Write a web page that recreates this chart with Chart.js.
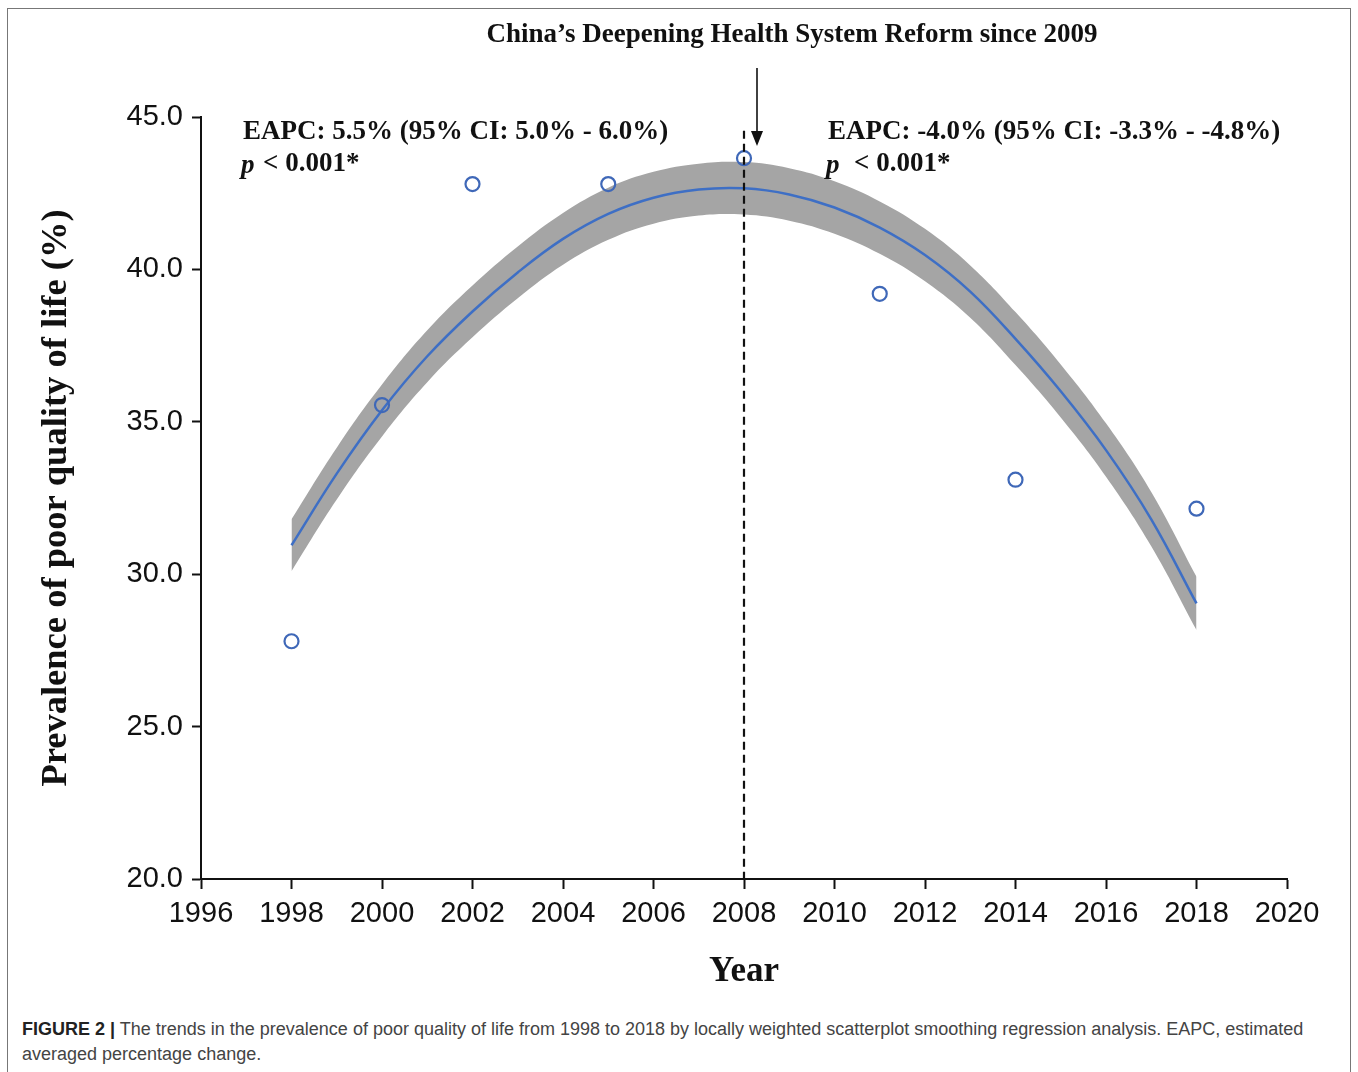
<!DOCTYPE html>
<html>
<head>
<meta charset="utf-8">
<title>Prevalence of poor quality of life</title>
<script src="https://cdn.jsdelivr.net/npm/chart.js@4.4.1/dist/chart.umd.min.js"></script>
<style>
  html, body { margin: 0; padding: 0; background: #fff; }
  body { width: 1358px; height: 1072px; position: relative; overflow: hidden; }
  .frame {
    position: absolute; left: 7px; top: 8px; width: 1344px; height: 1100px;
    border: 1.5px solid #777; box-sizing: border-box;
  }
  #chart { position: absolute; left: 0; top: 0; }
  .caption {
    position: absolute; left: 22px; top: 1017px; width: 1325px;
    font-family: "Liberation Sans", Arial, sans-serif; font-size: 18px;
    line-height: 25px; color: #444;
  }
  .caption b { color: #222; }
</style>
</head>
<body>
<div class="frame"></div>
<canvas id="chart" width="1358" height="1000"></canvas>
<div class="caption"><b>FIGURE 2 |</b> The trends in the prevalence of poor quality of life from 1998 to 2018 by locally weighted scatterplot smoothing regression analysis. EAPC, estimated<br>averaged percentage change.</div>

<script>
// Observed survey values (%)
const surveyYears = [1998, 2000, 2002, 2005, 2008, 2011, 2014, 2018];
const surveyValues = [27.8, 35.55, 42.8, 42.8, 43.65, 39.2, 33.1, 32.15];

// LOWESS fit and its confidence band
const fitYears = [1998, 1999, 2000, 2001, 2002, 2003, 2004, 2005, 2006, 2007, 2008,
                  2009, 2010, 2011, 2012, 2013, 2014, 2015, 2016, 2017, 2018];
const fitValues = [30.95, 33.3, 35.38, 37.15, 38.62, 39.9, 41.0, 41.82, 42.35, 42.62, 42.66,
                   42.46, 42.03, 41.37, 40.47, 39.27, 37.72, 36.0, 34.07, 31.8, 29.04];
const upperValues = [31.8, 34.15, 36.22, 38.0, 39.47, 40.75, 41.85, 42.68, 43.2, 43.47, 43.52,
                     43.32, 42.89, 42.23, 41.33, 40.13, 38.6, 36.88, 34.95, 32.7, 29.92];
const lowerValues = [30.1, 32.45, 34.52, 36.3, 37.77, 39.05, 40.15, 40.97, 41.5, 41.77, 41.8,
                     41.6, 41.17, 40.51, 39.61, 38.41, 36.86, 35.14, 33.2, 30.92, 28.17];

// Axes
const xMin = 1996, xMax = 2020, xStep = 2;
const yMin = 20, yMax = 45, yStep = 5;

// Reform marker
const reformYear = 2008;
const dashTopValue = 44.55;

const serif = '"Liberation Serif", "Times New Roman", serif';
const sans = '"Liberation Sans", Arial, sans-serif';

function toPoints(xs, ys) {
  return xs.map((v, i) => ({ x: v, y: ys[i] }));
}

// Annotations: title, EAPC texts, arrow and dashed reform line
const annotationPlugin = {
  id: 'annotations',
  afterDatasetsDraw(chart) {
    const { ctx, chartArea, scales: { x, y } } = chart;
    const xr = x.getPixelForValue(reformYear);
    ctx.save();
    ctx.strokeStyle = '#111';
    ctx.lineWidth = 2.2;
    ctx.setLineDash([8, 5]);
    ctx.beginPath();
    ctx.moveTo(xr, y.getPixelForValue(dashTopValue));
    ctx.lineTo(xr, chartArea.bottom);
    ctx.stroke();
    ctx.restore();
  },
  afterDraw(chart) {
    const { ctx, chartArea, scales: { x } } = chart;
    const xr = x.getPixelForValue(reformYear);
    ctx.save();
    ctx.fillStyle = '#111';
    ctx.textBaseline = 'middle';

    // title
    ctx.font = 'bold 27px ' + serif;
    ctx.textAlign = 'center';
    ctx.fillText('China\u2019s Deepening Health System Reform since 2009', 792, 35);

    // arrow
    const ax = xr + 13;
    ctx.strokeStyle = '#111';
    ctx.lineWidth = 1.6;
    ctx.beginPath();
    ctx.moveTo(ax, 68);
    ctx.lineTo(ax, 134);
    ctx.stroke();
    ctx.beginPath();
    ctx.moveTo(ax - 6, 131);
    ctx.lineTo(ax + 6, 131);
    ctx.lineTo(ax, 146);
    ctx.closePath();
    ctx.fill();

    // EAPC texts
    ctx.textAlign = 'left';
    ctx.font = 'bold 27px ' + serif;
    ctx.fillText('EAPC: 5.5% (95% CI: 5.0% - 6.0%)', chartArea.left + 42, 132);
    ctx.fillText('EAPC: -4.0% (95% CI: -3.3% - -4.8%)', xr + 84, 132);

    ctx.font = 'italic bold 27px ' + serif;
    ctx.fillText('p', chartArea.left + 40, 166);
    ctx.fillText('p', xr + 82, 166);
    ctx.font = 'bold 27px ' + serif;
    ctx.fillText('< 0.001*', chartArea.left + 62, 164);
    ctx.fillText('< 0.001*', xr + 110, 164);
    ctx.restore();
  }
};

const axisGrid = {
  display: true,
  drawOnChartArea: false,
  drawTicks: true,
  tickLength: 9,
  tickWidth: 2,
  tickColor: '#111'
};

const chart = new Chart(document.getElementById('chart'), {
  type: 'line',
  data: {
    datasets: [
      {
        label: 'Observed',
        type: 'scatter',
        data: toPoints(surveyYears, surveyValues),
        showLine: false,
        pointStyle: 'circle',
        pointRadius: 7,
        pointBorderWidth: 2.2,
        pointBorderColor: '#3f68b8',
        pointBackgroundColor: 'rgba(0,0,0,0)',
        order: 0
      },
      {
        label: 'LOWESS fit',
        data: toPoints(fitYears, fitValues),
        borderColor: '#3e6fc5',
        borderWidth: 2.5,
        pointRadius: 0,
        tension: 0.4,
        fill: false,
        order: 1
      },
      {
        label: 'Upper CI',
        data: toPoints(fitYears, upperValues),
        borderWidth: 0,
        pointRadius: 0,
        tension: 0.4,
        fill: false,
        order: 2
      },
      {
        label: 'Lower CI',
        data: toPoints(fitYears, lowerValues),
        borderWidth: 0,
        pointRadius: 0,
        tension: 0.4,
        backgroundColor: '#a5a5a5',
        fill: '-1',
        order: 3
      }
    ]
  },
  options: {
    responsive: false,
    animation: false,
    devicePixelRatio: 1,
    layout: { padding: { left: 0, top: 117, right: 71, bottom: 0 } },
    plugins: {
      legend: { display: false },
      tooltip: { enabled: false },
      filler: { propagate: false }
    },
    scales: {
      x: {
        type: 'linear',
        min: xMin,
        max: xMax,
        grid: Object.assign({}, axisGrid, { tickLength: 10 }),
        border: { display: true, color: '#111', width: 2 },
        ticks: {
          stepSize: xStep,
          color: '#111',
          padding: 8,
          maxRotation: 0,
          font: { family: sans, size: 29 },
          callback: v => String(v)
        },
        title: {
          display: true,
          text: 'Year',
          color: '#111',
          font: { family: serif, size: 35, weight: 'bold' },
          padding: { top: 0, bottom: 7 }
        },
        afterFit: s => { s.height = 121; }
      },
      y: {
        min: yMin,
        max: yMax,
        grid: axisGrid,
        border: { display: true, color: '#111', width: 2 },
        ticks: {
          stepSize: yStep,
          color: '#111',
          padding: 9,
          font: { family: sans, size: 29 },
          callback: v => v.toFixed(1)
        },
        title: {
          display: true,
          text: 'Prevalence of poor quality of life (%)',
          color: '#111',
          font: { family: serif, size: 36.5, weight: 'bold' },
          padding: { top: 35, bottom: 0 }
        },
        afterFit: s => { s.width = 201; }
      }
    }
  },
  plugins: [annotationPlugin]
});
</script>
</body>
</html>
